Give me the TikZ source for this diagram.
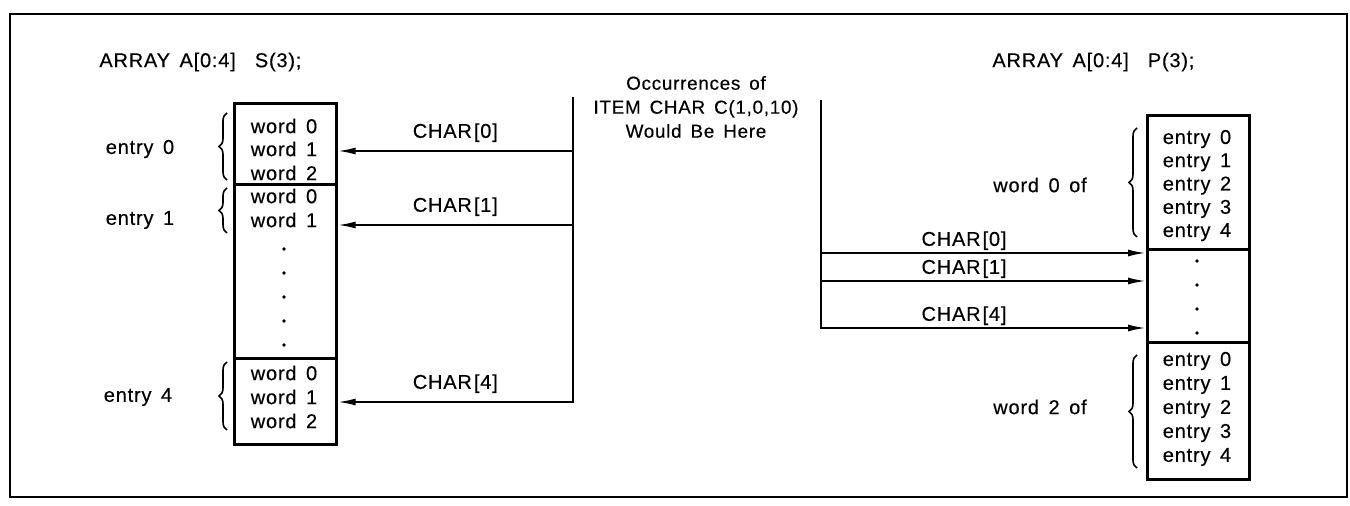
\documentclass[tikz,border=0pt]{standalone}
\usepackage{fontspec}
\setmainfont{Liberation Sans}[LetterSpace=4,WordSpace=1.5,FakeBold=0.4]
\usepackage{tikz}
\usetikzlibrary{arrows.meta,decorations.pathreplacing}

\begin{document}
\begin{tikzpicture}[x=0.5pt, y=-0.5pt, every node/.style={font=\fontsize{10}{12}\selectfont, inner sep=1pt}, >={Latex[length=9pt, width=3.5pt]},
	cell/.style={draw, line width=1.3pt, minimum width=51pt, inner sep=0pt, anchor=north west},
	ptr/.style={line width=1pt, ->},
	curl/.style={decorate, decoration={brace, amplitude=4pt}, line width=0.8pt}]
	\useasboundingbox (0,0) rectangle (1350,506);
	\draw[line width=1pt] (10,14) rectangle (1347,497);
	% serial array S(3)
	\node[anchor=west] (titleS) at (97,62) {ARRAY A[0:4]\ \ S(3);};
	\node[cell, minimum height=40.5pt] (s0) at (233,102) {};
	\node[cell, minimum height=87pt] (s1) at (233,183) {};
	\node[cell, minimum height=43pt] (s4) at (233,357) {};
	\foreach \y/\t in {126/word 0,149/word 1,173/word 2,196/word 0,220/word 1,373/word 0,397/word 1,421/word 2} {\node (sw\y) at (284,\y) {\t};}
	\foreach \y in {249,273,297,321,345} {\fill (284,\y) circle (0.9pt);}
	\draw[curl] (227,180) -- (227,113);
	\draw[curl] (227,233) -- (227,188);
	\draw[curl] (227,430) -- (227,362);
	\node (se0) at (140,149) {entry 0};
	\node (se1) at (140,220) {entry 1};
	\node (se4) at (138,397) {entry 4};
	% occurrences of the item
	\node[align=center, font=\fontsize{9.4}{12}\selectfont] (occ) at (696,107) {Occurrences of\\ITEM CHAR C(1,0,10)\\Would Be Here};
	\coordinate (ltop) at (573,97);
	\coordinate (l0) at (573,151);
	\coordinate (l1) at (573,225);
	\coordinate (l4) at (573,402);
	\draw[ptr] (l0) -- node[above=3pt] (lc0) {CHAR\kern1pt[0]} (l0 -| s0.east);
	\draw[ptr] (l1) -- node[above=3pt] (lc1) {CHAR\kern1pt[1]} (l1 -| s1.east);
	\draw[ptr] (ltop) -- (l4) -- node[above=3pt] (lc4) {CHAR\kern1pt[4]} (l4 -| s4.east);
	\coordinate (rtop) at (821,100);
	\coordinate (r0) at (821,253);
	\coordinate (r1) at (821,281);
	\coordinate (r4) at (821,328);
	% parallel array P(3)
	\node[anchor=west] (titleP) at (990,62) {ARRAY A[0:4]\ \ P(3);};
	\node[cell, minimum height=67pt] (p0) at (1146,114) {};
	\node[cell, minimum height=46.5pt] (p1) at (1146,248) {};
	\node[cell, minimum height=68.5pt] (p2) at (1146,341) {};
	\foreach \i in {0,...,4} {\node (pa\i) at (1197,{139+23.3*\i}) {entry \i};}
	\foreach \i in {0,...,4} {\node (pb\i) at (1197,{361+24*\i}) {entry \i};}
	\foreach \y in {261,285,309,333} {\fill (1197,\y) circle (0.9pt);}
	\draw[curl] (1137,237) -- (1137,128);
	\draw[curl] (1137,468) -- (1137,355);
	\node (pw0) at (1040,185) {word 0 of};
	\node (pw2) at (1040,407) {word 2 of};
	\draw[ptr] (r0) -- node[above, pos=0.44] (rc0) {CHAR\kern1pt[0]} (r0 -| p1.west);
	\draw[ptr] (r1) -- node[above, pos=0.44] (rc1) {CHAR\kern1pt[1]} (r1 -| p1.west);
	\draw[ptr] (rtop) -- (r4) -- node[above, pos=0.44] (rc4) {CHAR\kern1pt[4]} (r4 -| p1.west);
\end{tikzpicture}
\end{document}
